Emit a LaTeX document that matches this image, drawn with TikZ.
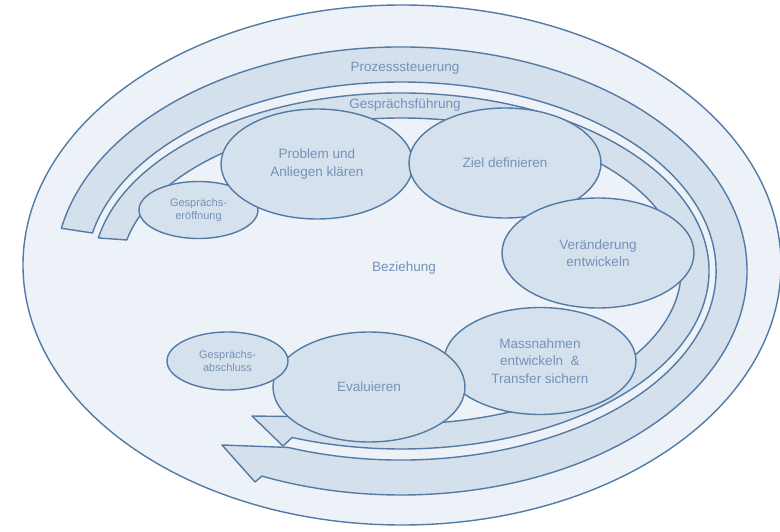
\documentclass[tikz,border=0pt]{standalone}
\usepackage{fontspec}
\setmainfont{Liberation Sans}
\usetikzlibrary{shapes.geometric,calc}
\definecolor{bgfill}{RGB}{236,242,248}
\definecolor{bandfill}{RGB}{213,224,237}
\definecolor{nodefill}{RGB}{214,225,238}
\definecolor{stroke}{RGB}{84,122,166}
\definecolor{txt}{RGB}{118,146,184}
\tikzset{
  outline/.style={draw=stroke, line width=1.4pt, line join=round},
  bandshape/.style={outline, fill=bandfill},
  bandlabel/.style={text=txt, font=\fontsize{13.5}{16}\selectfont, inner sep=0pt},
  bignode/.style={ellipse, outline, fill=nodefill, text=txt, inner sep=0pt,
    minimum width=192pt, minimum height=110pt, align=center,
    font=\fontsize{13.5}{17.5}\selectfont},
  smallnode/.style={ellipse, outline, fill=nodefill, text=txt, inner sep=0pt,
    minimum width=119pt, minimum height=57pt, align=center,
    font=\fontsize{11}{13.5}\selectfont},
}
\begin{document}
\begin{tikzpicture}[x=1pt, y=1pt]
  \path[fill=white, use as bounding box] (0,0) rectangle (780,531);
  % relationship ellipse
  \coordinate (B) at (402,266);
  \draw[outline, fill=bgfill] (B) ellipse[x radius=379, y radius=260];
  \node[text=txt, font=\fontsize{13.5}{16}\selectfont] (bez) at (404,263) {Beziehung};
  % band centre
  \coordinate (C) at (401,260);
  % outer arrow: Prozesssteuerung
  \coordinate (pa) at ($(C)+(169:346 and 224)$);
  \coordinate (pbarb) at (255,49);
  \coordinate (ptip) at (222,86);
  \coordinate (pin) at ($(C)+(-111:315 and 189)$);
  \draw[bandshape] (pa) arc[start angle=169, end angle=-113.7, x radius=346, y radius=224]
    -- (pbarb) -- (ptip) -- (pin)
    arc[start angle=-111, end angle=168.4, x radius=315, y radius=189] -- cycle;
  % inner arrow: Gespraechsfuehrung
  \coordinate (ga) at ($(C)+(169.3:308 and 178)$);
  \coordinate (gbarb) at (283,85);
  \coordinate (gtip) at (252,115);
  \coordinate (gin) at ($(C)+(-107.5:280 and 153)$);
  \draw[bandshape] (ga) arc[start angle=169.3, end angle=-110.7, x radius=308, y radius=178]
    -- (gbarb) -- (gtip) -- (gin)
    arc[start angle=-107.5, end angle=168.3, x radius=280, y radius=153] -- cycle;
  \node[bandlabel] (prozess) at (405,463) {Prozesssteuerung};
  \node[bandlabel] (fuehrung) at (405,426) {Gesprächsführung};
  % phases
  \node[smallnode] (eroeff) at (198.5,321) {Gesprächs-\\eröffnung};
  \node[bignode] (problem) at (317,367) {Problem und\\Anliegen klären};
  \node[bignode] (ziel) at (505,368) {Ziel definieren};
  \node[bignode] (veraend) at (598,278) {Veränderung\\entwickeln};
  \node[bignode, minimum height=107pt] (massn) at (540,170) {Massnahmen\\entwickeln \;\&\\Transfer sichern};
  \node[bignode] (eval) at (369,144) {Evaluieren};
  \node[smallnode, minimum width=121pt, minimum height=58pt] (abschl) at (227.5,170) {Gesprächs-\\abschluss};
\end{tikzpicture}
\end{document}
